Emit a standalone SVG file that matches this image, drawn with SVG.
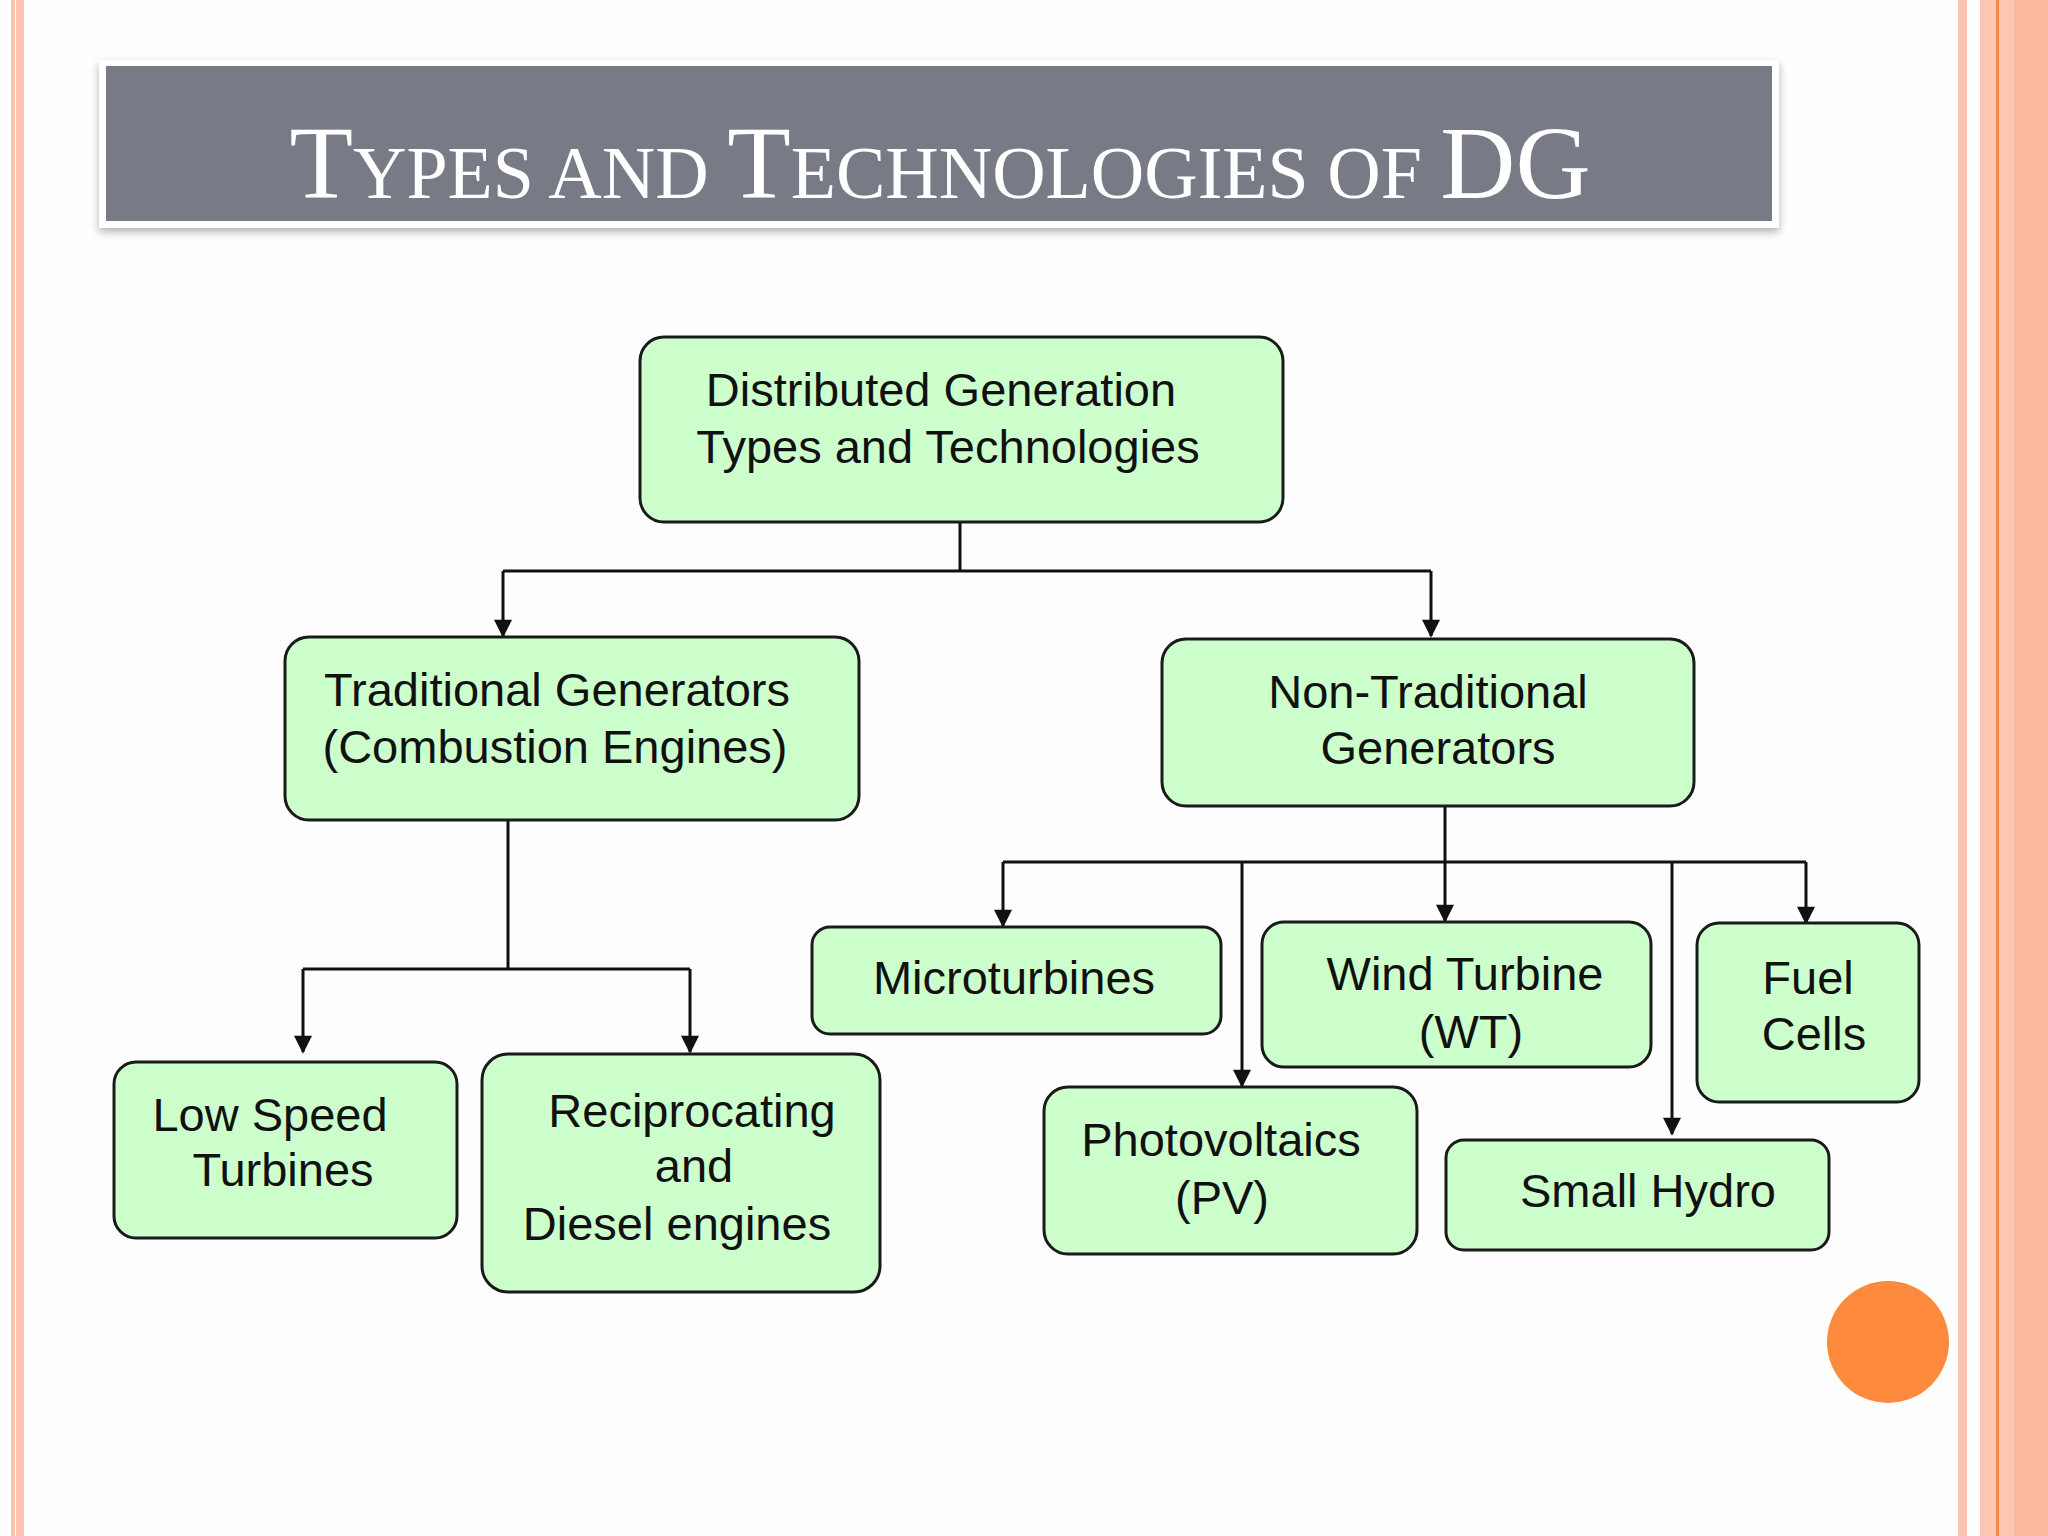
<svg xmlns="http://www.w3.org/2000/svg" width="2048" height="1536" viewBox="0 0 2048 1536">
<defs>
<style>
.n{fill:#ccffcc;stroke:#1a1a1a;stroke-width:3}
.t{font-family:"Liberation Sans",Arial,sans-serif;font-size:47px;fill:#111;text-anchor:middle}
.c{fill:none;stroke:#111;stroke-width:3}
</style>
<marker id="ah" viewBox="0 0 10 10" refX="9" refY="5" markerWidth="22" markerHeight="18" markerUnits="userSpaceOnUse" orient="auto"><path d="M0,0L10,5L0,10z" fill="#111"/></marker>
<filter id="sh" x="-5%" y="-20%" width="110%" height="150%"><feDropShadow dx="0" dy="4" stdDeviation="4" flood-color="#000" flood-opacity="0.3"/></filter>
</defs>
<rect width="2048" height="1536" fill="#fdfefd"/>
<rect x="11" y="0" width="4" height="1536" fill="#f8c2ae"/>
<rect x="16" y="0" width="8" height="1536" fill="#fcc4b0"/>
<rect x="1958" y="0" width="9" height="1536" fill="#fcc4b0"/>
<rect x="1980" y="0" width="68" height="1536" fill="#fcc6b2"/>
<rect x="2014" y="0" width="34" height="1536" fill="#fbb9a0"/>
<rect x="1996" y="0" width="3" height="1536" fill="#f4884a"/>
<g id="title">
<rect x="99" y="60" width="1680" height="168" fill="#fff" filter="url(#sh)"/>
<rect x="106" y="66" width="1666" height="155" fill="#787b85"/>
<text x="940" y="198" text-anchor="middle" font-family="Liberation Serif,'Times New Roman',serif" font-size="104" fill="#fff">T<tspan font-size="74">YPES AND </tspan>T<tspan font-size="74">ECHNOLOGIES OF </tspan>DG</text>
</g>
<g id="connectors">
<path class="c" d="M960,522V571M503,571H1431"/>
<path class="c" d="M503,571V636" marker-end="url(#ah)"/>
<path class="c" d="M1431,571V636" marker-end="url(#ah)"/>
<path class="c" d="M508,806V969M303,969H690"/>
<path class="c" d="M303,969V1052" marker-end="url(#ah)"/>
<path class="c" d="M690,969V1052" marker-end="url(#ah)"/>
<path class="c" d="M1445,806V862M1003,862H1806"/>
<path class="c" d="M1003,862V926" marker-end="url(#ah)"/>
<path class="c" d="M1242,862V1086" marker-end="url(#ah)"/>
<path class="c" d="M1445,862V921" marker-end="url(#ah)"/>
<path class="c" d="M1672,862V1134" marker-end="url(#ah)"/>
<path class="c" d="M1806,862V923" marker-end="url(#ah)"/>
</g>
<g id="root"><rect class="n" x="640" y="337" width="643" height="185" rx="24"/><text class="t" x="941" y="406">Distributed Generation</text><text class="t" x="948" y="463">Types and Technologies</text></g>
<g id="trad"><rect class="n" x="285" y="637" width="574" height="183" rx="24"/><text class="t" x="557" y="706">Traditional Generators</text><text class="t" x="555" y="763">(Combustion Engines)</text></g>
<g id="nontrad"><rect class="n" x="1162" y="639" width="532" height="167" rx="24"/><text class="t" x="1428" y="708">Non-Traditional</text><text class="t" x="1438" y="764">Generators</text></g>
<g id="lowspeed"><rect class="n" x="114" y="1062" width="343" height="176" rx="22"/><text class="t" x="270" y="1131">Low Speed</text><text class="t" x="283" y="1186">Turbines</text></g>
<g id="recip"><rect class="n" x="482" y="1054" width="398" height="238" rx="26"/><text class="t" x="692" y="1127">Reciprocating</text><text class="t" x="694" y="1182">and</text><text class="t" x="677" y="1240">Diesel engines</text></g>
<g id="micro"><rect class="n" x="812" y="927" width="409" height="107" rx="18"/><text class="t" x="1014" y="994">Microturbines</text></g>
<g id="wind"><rect class="n" x="1262" y="922" width="389" height="145" rx="22"/><text class="t" x="1465" y="990">Wind Turbine</text><text class="t" x="1471" y="1048">(WT)</text></g>
<g id="fuel"><rect class="n" x="1697" y="923" width="222" height="179" rx="22"/><text class="t" x="1808" y="994">Fuel</text><text class="t" x="1814" y="1050">Cells</text></g>
<g id="pv"><rect class="n" x="1044" y="1087" width="373" height="167" rx="24"/><text class="t" x="1221" y="1156">Photovoltaics</text><text class="t" x="1222" y="1214">(PV)</text></g>
<g id="hydro"><rect class="n" x="1446" y="1140" width="383" height="110" rx="18"/><text class="t" x="1648" y="1207">Small Hydro</text></g>
<circle cx="1888" cy="1342" r="61" fill="#fd8a3d"/>
</svg>
